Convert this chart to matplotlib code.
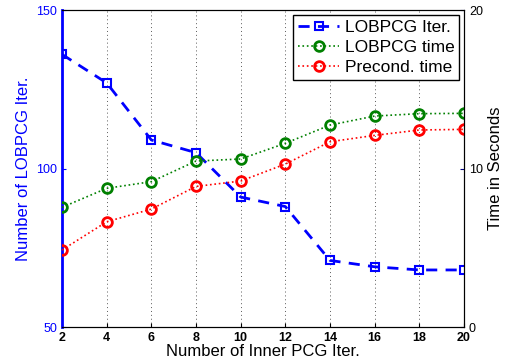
import matplotlib
matplotlib.use("Agg")
import matplotlib.pyplot as plt

plt.rcParams['font.family'] = ['Liberation Sans', 'DejaVu Sans']

# Data
inner_iter = [2, 4, 6, 8, 10, 12, 14, 16, 18, 20]
lobpcg_iter = [136, 127, 109, 105, 91, 88, 71, 69, 68, 68]
lobpcg_time = [7.55, 8.75, 9.17, 10.47, 10.6, 11.59, 12.74, 13.31, 13.46, 13.48]
precond_time = [4.86, 6.64, 7.44, 8.87, 9.21, 10.28, 11.69, 12.09, 12.43, 12.47]

fig = plt.figure(figsize=(5.05, 3.64), dpi=100)
ax = fig.add_axes([0.1228, 0.1016, 0.796, 0.8709])
ax2 = ax.twinx()

l1, = ax.plot(inner_iter, lobpcg_iter, color="blue", linestyle="--", linewidth=2,
              marker="s", markersize=6, markerfacecolor="none", markeredgewidth=1.5,
              dashes=(4, 3), label="LOBPCG Iter.")
l2, = ax2.plot(inner_iter, lobpcg_time, color="green", linestyle=":", linewidth=1.2,
               marker="o", markersize=7, markerfacecolor="none", markeredgewidth=2,
               label="LOBPCG time")
l3, = ax2.plot(inner_iter, precond_time, color="red", linestyle=":", linewidth=1.2,
               marker="o", markersize=7, markerfacecolor="none", markeredgewidth=2,
               label="Precond. time")

ax.set_xlim(2, 20)
ax.set_ylim(50, 150)
ax.set_yticks([50, 100, 150])
ax.set_xticks(inner_iter)
ax2.set_ylim(0, 20)
ax2.set_yticks([0, 10, 20])

ax.grid(axis="x", linestyle=(0, (1, 3)), color="0.35", linewidth=0.7)

for lab in ax.get_xticklabels():
    lab.set_fontweight("bold")
ax.tick_params(axis="x", labelsize=9, direction="in", length=3)
ax.tick_params(axis="y", labelsize=9, colors="blue", direction="in", length=3)
ax2.tick_params(axis="y", labelsize=9, direction="in", length=3, color="navy")

ax.spines["left"].set_color("blue")
ax.spines["left"].set_linewidth(2)
ax2.spines["left"].set_visible(False)

ax.set_xlabel("Number of Inner PCG Iter.", fontsize=12, labelpad=0)
ax.set_ylabel("Number of LOBPCG Iter.", fontsize=12, color="blue", labelpad=4)
ax2.set_ylabel("Time in Seconds", fontsize=12, labelpad=4)

leg = ax2.legend(handles=[l1, l2, l3], loc="upper right", fontsize=12.5,
                 fancybox=False, framealpha=1, edgecolor="black",
                 borderpad=0.25, labelspacing=0.3, handlelength=2.4,
                 handletextpad=0.3, borderaxespad=0.3)
leg.get_frame().set_linewidth(1)

fig.savefig("out.png", dpi=100)
